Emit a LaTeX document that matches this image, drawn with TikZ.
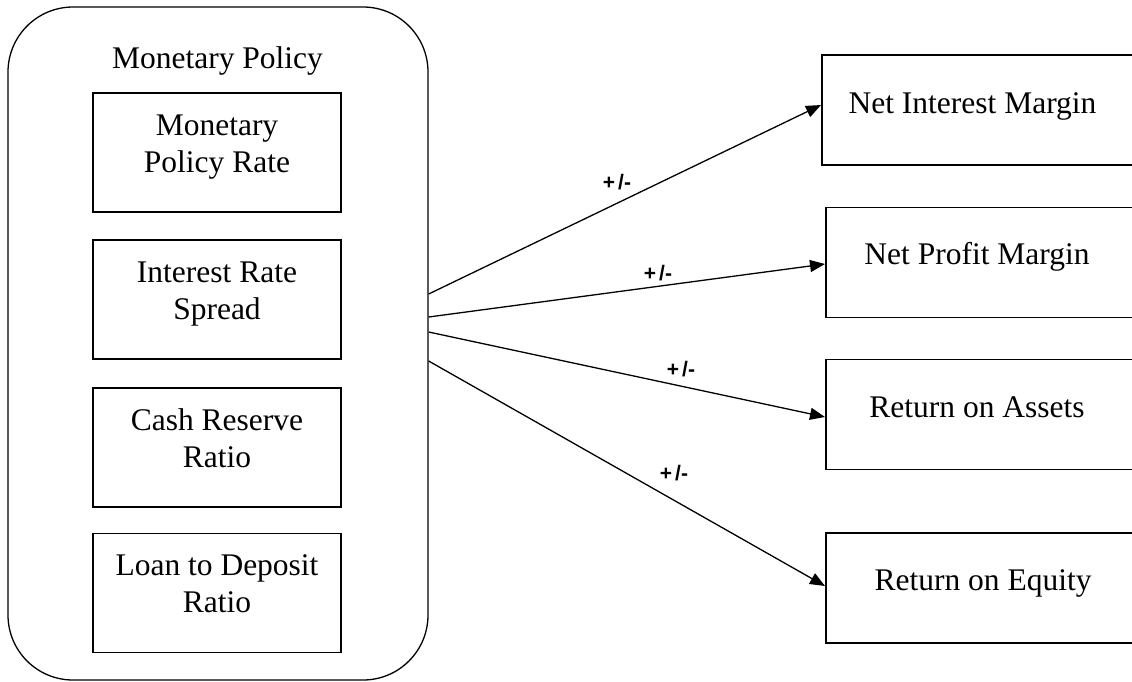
\documentclass[tikz,border=0pt]{standalone}
\usepackage{fontspec}
\setmainfont{Liberation Serif}
\newfontfamily\pmfont{Liberation Sans}
\usetikzlibrary{arrows.meta}

\tikzset{
  outerbox/.style={draw, line width=1.3pt, rounded corners=65pt, minimum width=420pt, minimum height=673pt},
  ibox/.style={draw, line width=1.6pt, minimum width=248pt, minimum height=119pt, align=center, text depth=18pt, font=\fontsize{31.5}{37}\selectfont},
  rbox/.style={draw, line width=1.6pt, anchor=west, minimum width=340pt, minimum height=110pt},
  rtxt/.style={anchor=base, font=\fontsize{31.5}{37}\selectfont},
  pm/.style={font=\pmfont\bfseries\fontsize{21}{23}\selectfont},
  arr/.style={line width=1.3pt, -{Triangle[length=15pt,width=12pt]}}
}
\newcommand{\pmtext}{+\kern3pt/-}

\begin{document}
\begin{tikzpicture}[x=1pt,y=-1pt]
  \useasboundingbox (0,0) rectangle (1132,681);
  \clip (0,0) rectangle (1132,681);
  % monetary policy block
  \node[outerbox] (mp) at (218,343.5) {};
  \node[rtxt] (mptitle) at (217.5,68) {Monetary Policy};
  \node[ibox] (mpr) at (217,152.5) {Monetary\\Policy Rate};
  \node[ibox] (irs) at (217,299.5) {Interest Rate\\Spread};
  \node[ibox] (crr) at (217,447.5) {Cash Reserve\\Ratio};
  \node[ibox] (ldr) at (217,593) {Loan to Deposit\\Ratio};
  % performance measures
  \node[rbox] (nim) at (821,110) {};
  \node[rbox] (npm) at (825,262.5) {};
  \node[rbox] (roa) at (825,414.5) {};
  \node[rbox] (roe) at (825,588) {};
  \node[rtxt] (nimtxt) at (972.5,113) {Net Interest Margin};
  \node[rtxt] (npmtxt) at (977,264) {Net Profit Margin};
  \node[rtxt] (roatxt) at (977,417) {Return on Assets};
  \node[rtxt] (roetxt) at (983,590) {Return on Equity};
  % effects
  \draw[arr] (mp.east |- 0,294) -- (nim.west |- 0,105);
  \draw[arr] (mp.east |- 0,317) -- (npm.west |- 0,264);
  \draw[arr] (mp.east |- 0,332) -- (roa.west |- 0,417);
  \draw[arr] (mp.east |- 0,361) -- (roe.west |- 0,586);
  \node[pm] (pm1) at (617,182) {\pmtext};
  \node[pm] (pm2) at (658,273) {\pmtext};
  \node[pm] (pm3) at (681,369) {\pmtext};
  \node[pm] (pm4) at (674,473) {\pmtext};
\end{tikzpicture}
\end{document}
